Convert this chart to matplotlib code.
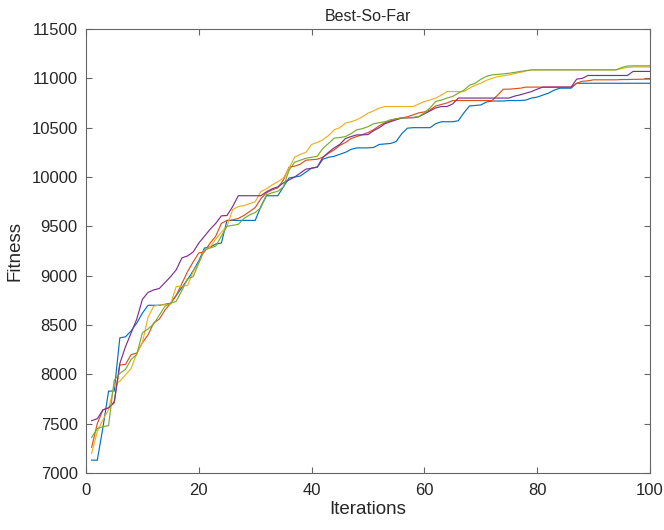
import matplotlib
matplotlib.use("Agg")
import matplotlib.pyplot as plt
import numpy as np

plt.rcParams['font.family'] = ['Liberation Sans', 'DejaVu Sans']

iterations = list(range(1, 101))

run_blue = [7130, 7130, 7460, 7830, 7830, 8370, 8380, 8440, 8520, 8620,
            8700, 8700, 8700, 8710, 8720, 8800, 8880, 8960, 9050, 9150,
            9280, 9290, 9320, 9330, 9560, 9560, 9560, 9560, 9560, 9560,
            9700, 9810, 9810, 9810, 9900, 9990, 10000, 10010, 10050, 10090,
            10100, 10180, 10200, 10210, 10230, 10250, 10280, 10295, 10295, 10295,
            10300, 10330, 10335, 10340, 10360, 10440, 10495, 10500, 10500, 10500,
            10500, 10540, 10560, 10560, 10560, 10570, 10650, 10720, 10725, 10730,
            10760, 10770, 10770, 10770, 10775, 10775, 10775, 10780, 10800, 10810,
            10830, 10850, 10880, 10900, 10900, 10900, 10950, 10950, 10950, 10950,
            10950, 10950, 10950, 10950, 10950, 10950, 10950, 10950, 10950, 10950]

run_red = [7260, 7500, 7640, 7660, 7710, 8095, 8100, 8200, 8215, 8320,
           8400, 8520, 8560, 8650, 8720, 8800, 8920, 9040, 9140, 9230,
           9240, 9330, 9400, 9530, 9560, 9565, 9580, 9610, 9650, 9690,
           9780, 9840, 9870, 9890, 9970, 10100, 10110, 10130, 10170, 10175,
           10180, 10200, 10240, 10275, 10320, 10350, 10390, 10410, 10430, 10450,
           10480, 10520, 10550, 10570, 10590, 10600, 10610, 10630, 10650, 10660,
           10680, 10720, 10735, 10750, 10775, 10775, 10775, 10775, 10775, 10775,
           10775, 10775, 10830, 10890, 10890, 10895, 10900, 10911, 10911, 10911,
           10911, 10911, 10911, 10911, 10911, 10911, 10950, 10970, 10975, 10985,
           10985, 10985, 10985, 10985, 10988, 10988, 10990, 10990, 10992, 10992]

run_yellow = [7200, 7420, 7540, 7640, 7890, 7930, 7994, 8060, 8210, 8320,
              8580, 8690, 8703, 8705, 8710, 8890, 8895, 8900, 9040, 9130,
              9260, 9290, 9370, 9440, 9500, 9670, 9700, 9710, 9730, 9750,
              9853, 9880, 9920, 9950, 9990, 10090, 10200, 10230, 10250, 10330,
              10350, 10377, 10420, 10478, 10500, 10546, 10560, 10580, 10610, 10647,
              10670, 10699, 10714, 10714, 10714, 10714, 10714, 10714, 10740, 10765,
              10780, 10800, 10830, 10866, 10866, 10866, 10866, 10900, 10930, 10950,
              10980, 11000, 11018, 11025, 11035, 11050, 11060, 11075, 11086, 11086,
              11086, 11086, 11086, 11086, 11086, 11086, 11086, 11086, 11086, 11086,
              11086, 11086, 11086, 11086, 11100, 11110, 11115, 11115, 11115, 11115]

run_purple = [7530, 7550, 7640, 7660, 7720, 8110, 8280, 8420, 8560, 8760,
              8830, 8856, 8870, 8930, 8990, 9060, 9180, 9200, 9240, 9330,
              9400, 9470, 9530, 9606, 9610, 9700, 9810, 9810, 9810, 9810,
              9810, 9850, 9880, 9900, 9940, 9970, 10000, 10040, 10080, 10089,
              10100, 10200, 10250, 10295, 10330, 10390, 10410, 10427, 10427, 10430,
              10470, 10500, 10540, 10560, 10580, 10597, 10600, 10600, 10610, 10640,
              10670, 10700, 10714, 10714, 10740, 10800, 10800, 10800, 10800, 10800,
              10800, 10800, 10800, 10800, 10800, 10820, 10833, 10850, 10866, 10890,
              10911, 10911, 10911, 10911, 10911, 10911, 10992, 11000, 11029, 11029,
              11029, 11029, 11029, 11029, 11029, 11029, 11070, 11070, 11070, 11070]

run_green = [7360, 7450, 7470, 7480, 7940, 8010, 8050, 8150, 8200, 8420,
             8460, 8510, 8600, 8690, 8720, 8740, 8850, 8970, 8990, 9130,
             9260, 9280, 9300, 9400, 9500, 9510, 9520, 9580, 9616, 9640,
             9690, 9820, 9840, 9855, 9900, 10070, 10150, 10170, 10190, 10200,
             10210, 10290, 10340, 10394, 10400, 10410, 10440, 10478, 10490, 10510,
             10540, 10550, 10560, 10580, 10590, 10600, 10600, 10605, 10613, 10650,
             10700, 10765, 10780, 10800, 10816, 10850, 10880, 10930, 10950, 10990,
             11020, 11035, 11040, 11045, 11052, 11060, 11070, 11078, 11085, 11086,
             11086, 11086, 11086, 11086, 11086, 11086, 11086, 11086, 11086, 11086,
             11086, 11086, 11086, 11086, 11110, 11125, 11127, 11127, 11127, 11127]

series = [run_blue, run_red, run_yellow, run_purple, run_green]
colors = ['#0072BD', '#D95319', '#EDB120', '#7E2F8E', '#77AC30']

x_ticks = [0, 20, 40, 60, 80, 100]
y_ticks = [7000, 7500, 8000, 8500, 9000, 9500, 10000, 10500, 11000, 11500]

fig = plt.figure(figsize=(6.64, 5.30), dpi=100)
ax = fig.add_axes([86/664, 1 - 473/530, (650 - 86)/664, (473 - 29)/530])

for s, c in zip(series, colors):
    ax.plot(iterations, s, color=c, linewidth=0.85)

ax.set_xlim(0, 100)
ax.set_ylim(7000, 11500)
ax.set_xticks(x_ticks)
ax.set_yticks(y_ticks)

for sp in ax.spines.values():
    sp.set_color('#666666')
    sp.set_linewidth(0.8)

ax.tick_params(axis='both', direction='in', length=4, width=0.8, color='#666666',
               labelsize=12, labelcolor='#262626', top=True, right=True)
ax.tick_params(axis='x', pad=7)
ax.tick_params(axis='y', pad=6)

ax.set_title('Best-So-Far', fontsize=11.5, color='#262626', pad=6)
ax.set_xlabel('Iterations', fontsize=13.5, color='#262626', labelpad=2)
ax.set_ylabel('Fitness', fontsize=13.5, color='#262626', labelpad=6)

fig.savefig('out.png', dpi=100)
